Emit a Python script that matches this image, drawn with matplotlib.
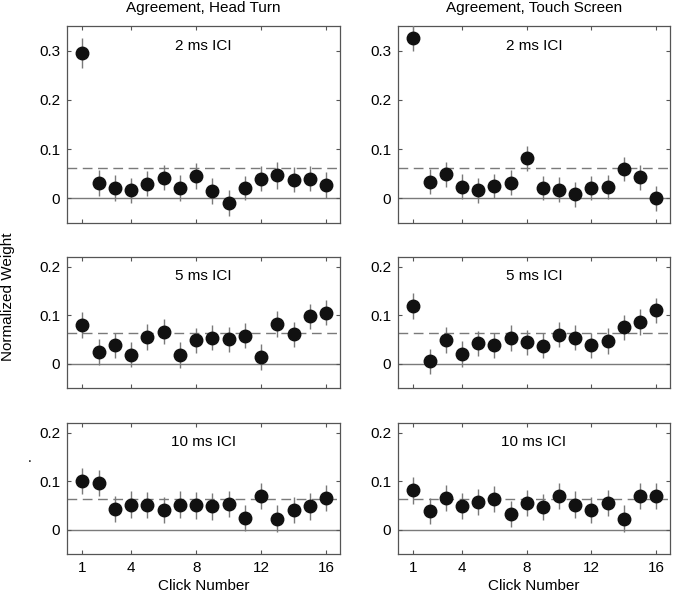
import matplotlib
matplotlib.use("Agg")
import matplotlib.pyplot as plt
import numpy as np

plt.rcParams['font.family'] = ['Liberation Sans', 'DejaVu Sans']

clicks = list(range(1, 17))
xticks = [1, 4, 8, 12, 16]
col_titles = ["Agreement, Head Turn", "Agreement, Touch Screen"]
row_labels = ["2 ms ICI", "5 ms ICI", "10 ms ICI"]
reference_weight = 1 / 16

head_2ms = [0.295, 0.031, 0.021, 0.016, 0.030, 0.042, 0.021, 0.046,
            0.015, -0.009, 0.021, 0.040, 0.047, 0.038, 0.040, 0.027]
touch_2ms = [0.326, 0.034, 0.049, 0.024, 0.016, 0.025, 0.032, 0.081,
             0.021, 0.018, 0.008, 0.021, 0.023, 0.060, 0.043, 0.000]
head_5ms = [0.080, 0.024, 0.038, 0.019, 0.055, 0.066, 0.018, 0.048,
            0.054, 0.050, 0.058, 0.014, 0.082, 0.061, 0.098, 0.105]
touch_5ms = [0.119, 0.005, 0.049, 0.020, 0.042, 0.038, 0.053, 0.044,
             0.037, 0.060, 0.054, 0.038, 0.047, 0.075, 0.086, 0.110]
head_10ms = [0.101, 0.096, 0.043, 0.052, 0.051, 0.040, 0.052, 0.050,
             0.048, 0.053, 0.024, 0.070, 0.023, 0.041, 0.048, 0.066]
touch_10ms = [0.081, 0.039, 0.066, 0.049, 0.058, 0.063, 0.033, 0.055,
              0.047, 0.069, 0.052, 0.041, 0.055, 0.023, 0.069, 0.069]

err_head_2ms = [0.030, 0.026, 0.026, 0.026, 0.026, 0.026, 0.026, 0.026,
                0.026, 0.026, 0.025, 0.026, 0.027, 0.026, 0.026, 0.026]
err_touch_2ms = [0.027, 0.025, 0.025, 0.025, 0.025, 0.025, 0.025, 0.025,
                 0.025, 0.025, 0.025, 0.025, 0.025, 0.025, 0.025, 0.025]
err_5ms = [0.026] * 16
err_10ms = [0.027] * 16

panels = [
    [(head_2ms, err_head_2ms), (touch_2ms, err_touch_2ms)],
    [(head_5ms, err_5ms), (touch_5ms, err_5ms)],
    [(head_10ms, err_10ms), (touch_10ms, err_10ms)],
]

fig = plt.figure(figsize=(6.76, 5.94), dpi=100)
W, H = 676, 594
col_x = [(67, 340), (398, 670)]
row_y = [(26, 223), (257, 388), (423, 554)]
ylims = [(-0.05, 0.35), (-0.05, 0.22), (-0.05, 0.22)]
yticks = [[0, 0.1, 0.2, 0.3], [0, 0.1, 0.2], [0, 0.1, 0.2]]
ytl = [["0", "0.1", "0.2", "0.3"], ["0", "0.1", "0.2"], ["0", "0.1", "0.2"]]

spine_col = "#555555"
for r in range(3):
    for c in range(2):
        x0, x1 = col_x[c]
        y0, y1 = row_y[r]
        ax = fig.add_axes([x0 / W, 1 - y1 / H, (x1 - x0) / W, (y1 - y0) / H])
        vals, errs = panels[r][c]
        ax.axhline(0, color="#7a7a7a", lw=1.0, zorder=1)
        ax.axhline(reference_weight, color="#7a7a7a", lw=1.0,
                   dashes=(7, 4), zorder=1)
        ax.errorbar(clicks, vals, yerr=errs, fmt="o", color="#111111",
                    ecolor="#7a7a7a", elinewidth=1.0, capsize=0,
                    markersize=9, zorder=3)
        ax.set_xlim(0.05, 16.85)
        ax.set_ylim(*ylims[r])
        ax.set_xticks(xticks)
        ax.set_yticks(yticks[r])
        ax.set_yticklabels(ytl[r])
        if r < 2:
            ax.set_xticklabels([])
        ax.tick_params(direction="in", top=True, right=True, length=3,
                       labelsize=11, color=spine_col, pad=5)
        for s in ax.spines.values():
            s.set_color(spine_col)
            s.set_linewidth(0.9)
        ty = 0.90 if r == 0 else 0.855
        ax.text(0.5, ty, row_labels[r], transform=ax.transAxes,
                ha="center", va="center", fontsize=11)
        if r == 0:
            ax.text(0.5, (H - 8) / H, col_titles[c], fontsize=11,
                    ha="center", va="center",
                    transform=matplotlib.transforms.blended_transform_factory(
                        ax.transAxes, fig.transFigure))
        if r == 2:
            ax.set_xlabel("Click Number", fontsize=11, labelpad=3)

fig.text(8 / W, 1 - 297 / H, "Normalized Weight", rotation=90,
         ha="center", va="center", fontsize=11)
fig.text(30 / W, 1 - 458 / H, ".", ha="center", va="center", fontsize=10)

fig.savefig("out.png", dpi=100)
